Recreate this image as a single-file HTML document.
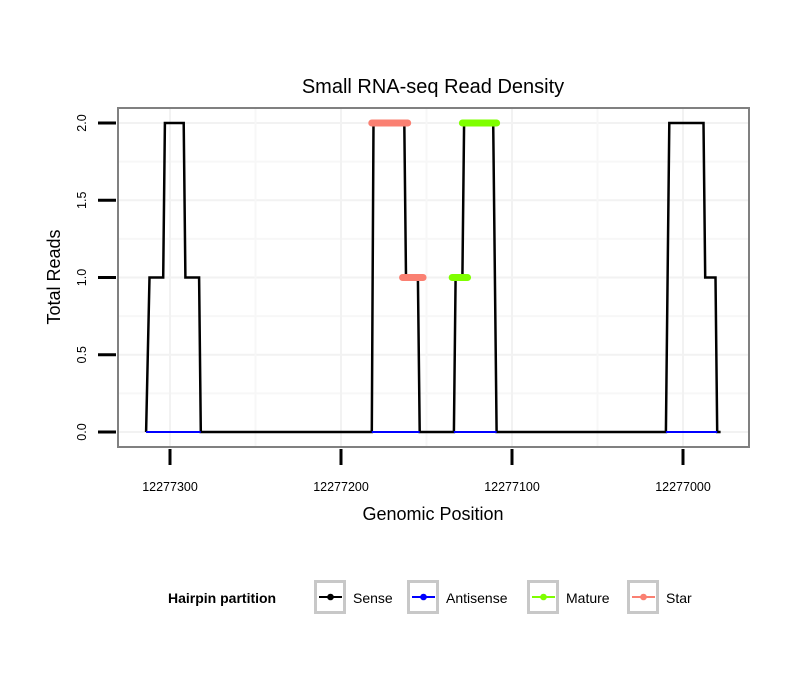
<!DOCTYPE html>
<html><head><meta charset="utf-8"><style>
body{margin:0;background:#fff;font-family:"Liberation Sans",sans-serif}
svg text{font-family:"Liberation Sans",sans-serif}
</style></head><body>
<svg id="c" width="810" height="690" xmlns="http://www.w3.org/2000/svg">
<rect width="810" height="690" fill="#fff"/>
<text x="433" y="93" text-anchor="middle" font-size="20">Small RNA-seq Read Density</text>
<g id="grid"></g>
<g id="plot"></g>
<rect x="118" y="108" width="631" height="339" fill="none" stroke="#808080" stroke-width="2"/>
<g id="axes"></g>
<text x="433" y="520" text-anchor="middle" font-size="18">Genomic Position</text>
<text transform="translate(60,277) rotate(-90)" text-anchor="middle" font-size="18">Total Reads</text>
<g>
<text x="168" y="603" font-size="14" font-weight="bold">Hairpin partition</text>
<g id="leg"></g>
</g>
</svg>
<script>
const xTicks=[12277300,12277200,12277100,12277000];
const yTicks=[0,0.5,1,1.5,2];
const yTickLabels=["0.0","0.5","1.0","1.5","2.0"];
const senseX=[12277314,12277312,12277304,12277303,12277292,12277291,12277283,12277282,12277182,12277181,12277163,12277162,12277155,12277154,12277134,12277133,12277129,12277128,12277111,12277109,12277010,12277009,12277008,12276988,12276987,12276981,12276980,12276978];
const senseY=[0,1,1,2,2,1,1,0,0,2,2,1,1,0,0,1,1,2,2,0,0,1,2,2,1,1,0,0];
const antiStart=[12277314,12277182,12277134,12277010];
const antiEnd=[12277282,12277154,12277109,12276980];
const starStart=[12277182,12277164];
const starEnd=[12277161,12277152];
const starVal=[2,1];
const matureStart=[12277135,12277129];
const matureEnd=[12277126,12277109];
const matureVal=[1,2];
const legendNames=["Sense","Antisense","Mature","Star"];
const legendColors=["#000000","#0000ff","#7fff00","#fa8072"];

const NS="http://www.w3.org/2000/svg";
const X=p=>170+(12277300-p)*1.71;
const Y=v=>432-v*154.5;
function mk(tag,attrs,parent){const e=document.createElementNS(NS,tag);for(const k in attrs)e.setAttribute(k,attrs[k]);parent.appendChild(e);return e;}
const grid=document.getElementById('grid'),plot=document.getElementById('plot'),axes=document.getElementById('axes'),leg=document.getElementById('leg');
for(let i=0;i<yTicks.length;i++){
 const g=mk('line',{x1:119,x2:748,y1:Y(yTicks[i]),y2:Y(yTicks[i]),stroke:'#f2f2f2','stroke-width':2},grid);
 
 
 if(i<yTicks.length-1){const m=mk('line',{x1:119,x2:748,y1:Y((yTicks[i]+yTicks[i+1])/2),y2:Y((yTicks[i]+yTicks[i+1])/2),stroke:'#f7f7f7','stroke-width':2},grid);
 
 }
}
for(let i=0;i<xTicks.length;i++){
 const g=mk('line',{x1:X(xTicks[i]),x2:X(xTicks[i]),y1:109,y2:446,stroke:'#f2f2f2','stroke-width':2},grid);
 
 
 if(i<xTicks.length-1){const m=mk('line',{x1:X(xTicks[i]-50),x2:X(xTicks[i]-50),y1:109,y2:446,stroke:'#f7f7f7','stroke-width':2},grid);
 
 }
}
let d=senseX.map((p,i)=>(i?'L':'M')+X(p).toFixed(1)+' '+Y(senseY[i]).toFixed(1)).join(' ');
const s=mk('path',{d:d,fill:'none',stroke:'#000','stroke-width':2.5},plot);


for(let i=0;i<antiStart.length;i++){
 const a=mk('line',{x1:X(antiStart[i]),x2:X(antiEnd[i]),y1:Y(0),y2:Y(0),stroke:'#0000ff','stroke-width':2},plot);
 
 
}
for(let i=0;i<starStart.length;i++){
 const a=mk('line',{x1:X(starStart[i]),x2:X(starEnd[i]),y1:Y(starVal[i]),y2:Y(starVal[i]),stroke:'#fa8072','stroke-width':7,'stroke-linecap':'round'},plot);
 
 
}
for(let i=0;i<matureStart.length;i++){
 const a=mk('line',{x1:X(matureStart[i]),x2:X(matureEnd[i]),y1:Y(matureVal[i]),y2:Y(matureVal[i]),stroke:'#7fff00','stroke-width':7,'stroke-linecap':'round'},plot);
 
 
}
for(let i=0;i<yTicks.length;i++){
 const t=mk('line',{x1:98,x2:116,y1:Y(yTicks[i]),y2:Y(yTicks[i]),stroke:'#000','stroke-width':3},axes);
 
 
 const l=mk('text',{transform:`translate(86,${Y(yTicks[i])}) rotate(-90)`,'text-anchor':'middle','font-size':12.5},axes);
 l.textContent=yTickLabels[i];
 
 
}
for(let i=0;i<xTicks.length;i++){
 const t=mk('line',{x1:X(xTicks[i]),x2:X(xTicks[i]),y1:449,y2:465,stroke:'#000','stroke-width':3},axes);
 
 
 const l=mk('text',{x:X(xTicks[i]),y:491,'text-anchor':'middle','font-size':12.5},axes);
 l.textContent=xTicks[i];
 
 
}
const lx=[314,407,527,627];
for(let i=0;i<legendNames.length;i++){
 const g=mk('g',{},leg);
 
 
 mk('rect',{x:lx[i]+1.5,y:581.5,width:29,height:31,fill:'#fff',stroke:'#c8c8c8','stroke-width':3},g);
 mk('line',{x1:lx[i]+5,x2:lx[i]+28,y1:597,y2:597,stroke:legendColors[i],'stroke-width':2},g);
 mk('circle',{cx:lx[i]+16.5,cy:597,r:3.3,fill:legendColors[i]},g);
 const t=mk('text',{x:lx[i]+39,y:603,'font-size':14},g);
 t.textContent=legendNames[i];
}
</script>
</body></html>
